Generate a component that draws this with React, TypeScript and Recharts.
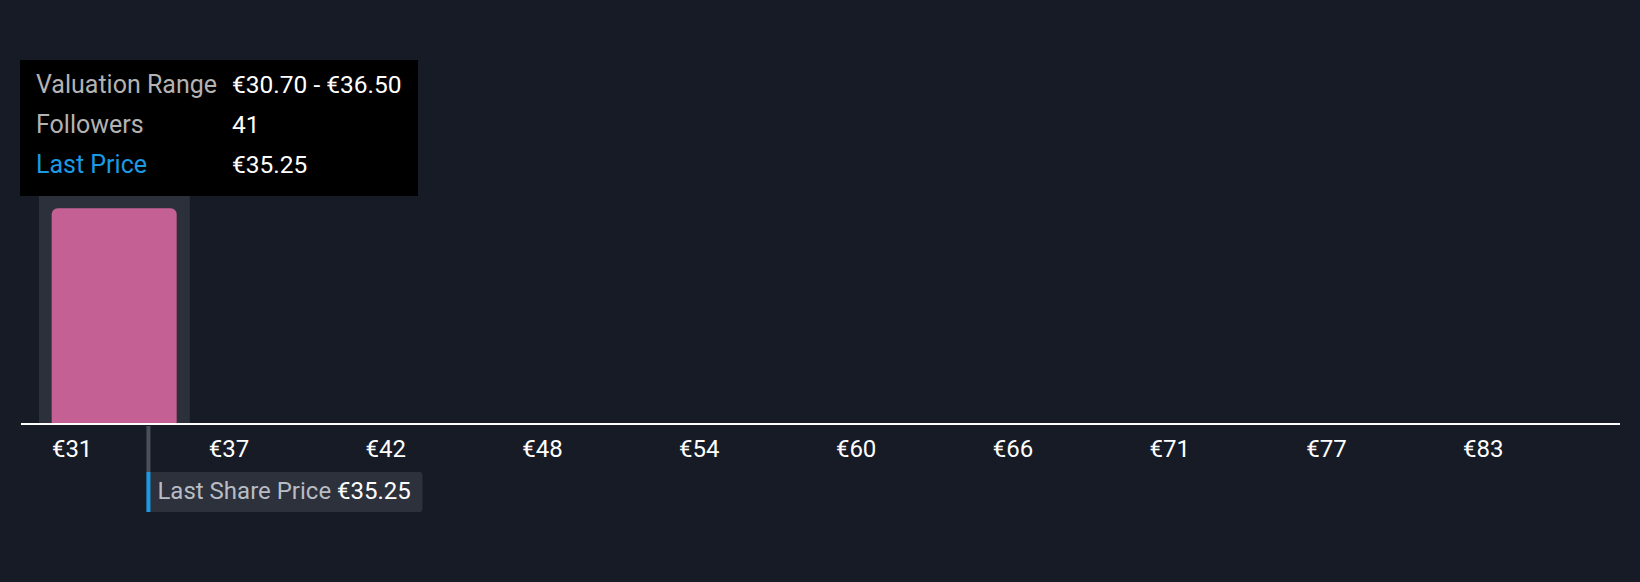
import { Bar, BarChart, ReferenceLine, Tooltip, XAxis, YAxis } from "recharts";

const binStarts = [30.7, 36.5, 42.3, 48.1, 53.9, 59.7, 65.5, 71.3, 77.1, 82.9];
const binEnds = [36.5, 42.3, 48.1, 53.9, 59.7, 65.5, 71.3, 77.1, 82.9, 88.7];
const followers = [41, 0, 0, 0, 0, 0, 0, 0, 0, 0];
const tickLabels = ["€31", "€37", "€42", "€48", "€54", "€60", "€66", "€71", "€77", "€83"];
const lastPrice = 35.25;
const priceDomain = [30.7, 88.7];

const data = tickLabels.map((label, i) => ({
  label,
  start: binStarts[i],
  end: binEnds[i],
  followers: followers[i]
}));

const bg = "#161b25";
const euro = (v: number) => `€${v.toFixed(2)}`;

function BinTick(props: any) {
  const { x, y, payload } = props;
  return (
    <text x={x - 62.5} y={y} dy={25} fill="#ffffff" fontSize={24} textAnchor="start">
      {payload.value}
    </text>
  );
}

function BinCursor(props: any) {
  const { x, y, width, height } = props;
  return <rect x={x + 3} y={y} width={width - 6} height={height} fill="#2c303a" />;
}

function RangeTooltip({ payload }: any) {
  if (!payload || !payload.length) return null;
  const row = payload[0].payload;
  const labelStyle = { color: "#b3b3b3", fontSize: 25 };
  return (
    <div
      style={{
        background: "#000",
        width: 398,
        height: 136,
        boxSizing: "border-box",
        padding: "5px 0 0 16px",
        fontSize: 24.5,
        lineHeight: "40px",
        display: "grid",
        gridTemplateColumns: "196px auto",
        gridAutoRows: "40px",
        alignContent: "start",
        color: "#fff"
      }}
    >
      <span style={labelStyle}>Valuation Range</span>
      <span>
        {euro(row.start)} - {euro(row.end)}
      </span>
      <span style={labelStyle}>Followers</span>
      <span>{row.followers}</span>
      <span style={{ ...labelStyle, color: "#1b9ae4" }}>Last Price</span>
      <span>{euro(lastPrice)}</span>
    </div>
  );
}

function PriceMarker(props: any) {
  const x = Number(props.x1);
  const base = Math.max(Number(props.y1), Number(props.y2));
  return (
    <g>
      <rect x={x} y={base + 2} width={4} height={46} fill="#4b4f57" />
      <rect x={x} y={base + 48} width={276} height={40} rx={3} fill="#2d313b" />
      <rect x={x} y={base + 48} width={4} height={40} fill="#1b9ae4" />
      <text x={x + 11} y={base + 75} fontSize={24} fill="#b8bcc4">
        Last Share Price <tspan fill="#ffffff">{euro(lastPrice)}</tspan>
      </text>
    </g>
  );
}

export default function App() {
  return (
    <div
      style={{
        position: "absolute",
        left: 0,
        top: 0,
        width: 1640,
        height: 582,
        background: bg,
        fontFamily: "Roboto, sans-serif"
      }}
    >
      <BarChart
        width={1640}
        height={582}
        data={data}
        margin={{ top: 66, right: 20, bottom: 128, left: 21 }}
        barCategoryGap="10%"
      >
        <XAxis
          dataKey="label"
          axisLine={{ stroke: "#ffffff", strokeWidth: 2 }}
          tickLine={false}
          tick={<BinTick />}
          interval={0}
          padding={{ left: 15, right: 16 }}
          height={30}
        />
        <XAxis
          xAxisId="price"
          dataKey="start"
          type="number"
          domain={priceDomain}
          hide
          allowDataOverflow
        />
        <YAxis hide domain={[0, 68]} />
        <Tooltip
          content={<RangeTooltip />}
          defaultIndex={0}
          active
          cursor={<BinCursor />}
          position={{ x: 20, y: 60 }}
          isAnimationActive={false}
          wrapperStyle={{ outline: "none" }}
        />
        <Bar dataKey="followers" fill="#c46094" radius={[6, 6, 0, 0]} isAnimationActive={false} />
        <ReferenceLine xAxisId="price" x={lastPrice} shape={<PriceMarker />} ifOverflow="visible" />
      </BarChart>
    </div>
  );
}
